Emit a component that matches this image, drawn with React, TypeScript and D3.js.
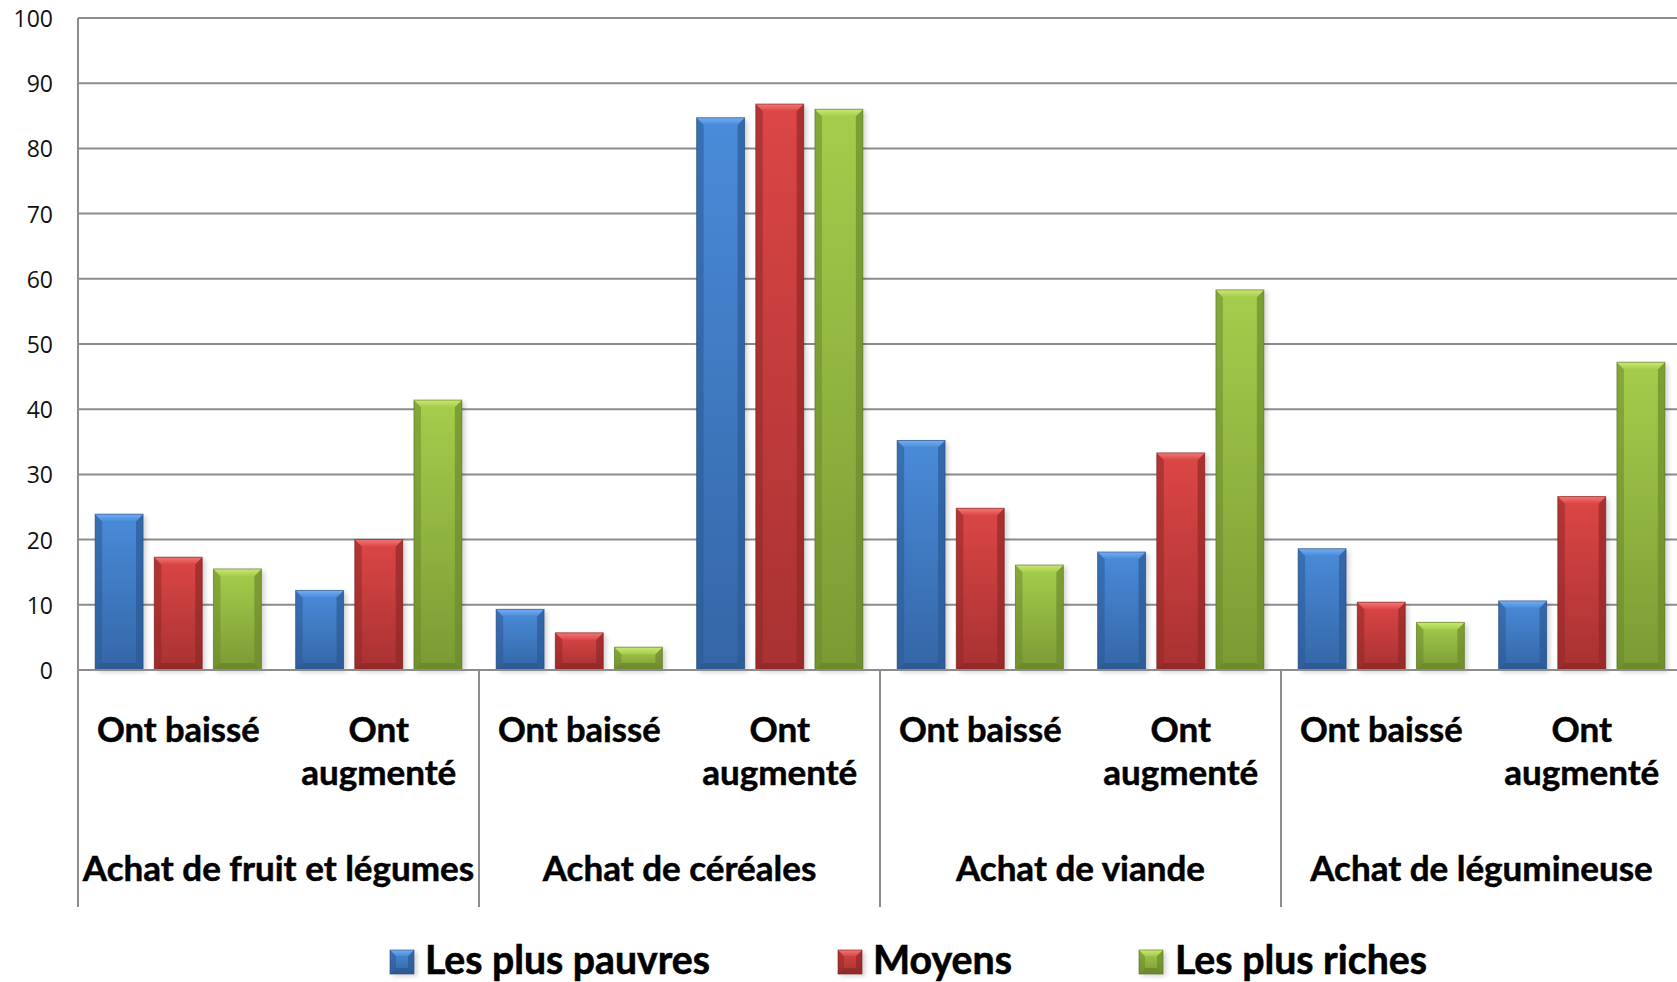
import React from "react";
import * as d3 from "d3";

const categories = ["Achat de fruit et légumes", "Achat de céréales", "Achat de viande", "Achat de légumineuse"];
const subcategories = ["Ont baissé", "Ont augmenté"];
const seriesNames = ["Les plus pauvres", "Moyens", "Les plus riches"];
const pauvres = [23.9, 12.2, 9.3, 84.7, 35.2, 18.1, 18.6, 10.6];
const moyens = [17.3, 20.0, 5.7, 86.8, 24.8, 33.3, 10.4, 26.6];
const riches = [15.5, 41.4, 3.5, 86.0, 16.1, 58.3, 7.3, 47.2];
const yTicks = [0, 10, 20, 30, 40, 50, 60, 70, 80, 90, 100];

const W = 1677;
const H = 982;
const left = 78;
const right = 1682;
const top = 18;
const bottom = 670;

const palettes = [
  { top: "#4a8bd9", bot: "#3466a6", bevelT: "#74aef2", side: "#2b5a95", bevelB: "#2a5288", stroke: "#24497a" },
  { top: "#dc4646", bot: "#a83131", bevelT: "#f27878", side: "#912828", bevelB: "#862525", stroke: "#7a2020" },
  { top: "#a6cd4c", bot: "#7a9a34", bevelT: "#cbe873", side: "#6c8a2c", bevelB: "#627e27", stroke: "#57701f" },
];

function Bevel({ x, y, w, h, i }: { x: number; y: number; w: number; h: number; i: number }) {
  const p = palettes[i];
  const b = Math.min(7, h / 2.5, w / 4);
  return (
    <g>
      <rect x={x + 3} y={y + 2} width={w} height={h} fill="#000" opacity={0.18} filter="url(#shadow)" />
      <rect x={x} y={y} width={w} height={h} fill={`url(#body${i})`} />
      <polygon
        points={`${x},${y} ${x + b},${y + b} ${x + b},${y + h - b} ${x},${y + h}`}
        fill={p.side}
        opacity={0.55}
      />
      <polygon
        points={`${x + w},${y} ${x + w - b},${y + b} ${x + w - b},${y + h - b} ${x + w},${y + h}`}
        fill={p.side}
        opacity={0.7}
      />
      <polygon
        points={`${x},${y + h} ${x + b},${y + h - b} ${x + w - b},${y + h - b} ${x + w},${y + h}`}
        fill={p.bevelB}
        opacity={0.6}
      />
      <polygon
        points={`${x},${y} ${x + w},${y} ${x + w - b},${y + b} ${x + b},${y + b}`}
        fill={`url(#bevel${i})`}
      />
      <rect x={x} y={y} width={w} height={h} fill="none" stroke={p.stroke} strokeWidth={1} opacity={0.6} />
    </g>
  );
}

export default function App() {
  const series = [pauvres, moyens, riches];
  const subKeys: string[] = [];
  categories.forEach((c) => subcategories.forEach((s) => subKeys.push(c + "|" + s)));

  const xSub = d3.scaleBand<string>().domain(subKeys).range([left, right]).padding(0);
  const xSer = d3
    .scaleBand<string>()
    .domain(seriesNames)
    .range([0, xSub.bandwidth()])
    .paddingInner(0.19)
    .paddingOuter(0.29);
  const y = d3.scaleLinear().domain([0, 100]).range([bottom, top]);
  const groupW = xSub.bandwidth() * subcategories.length;

  const font = "Lato, 'Open Sans', sans-serif";

  const legend = [
    { mx: 390, tx: 425, tw: 285 },
    { mx: 838, tx: 873, tw: 139 },
    { mx: 1139, tx: 1175, tw: 252 },
  ];

  return (
    <svg
      width={W}
      height={H}
      viewBox={`0 0 ${W} ${H}`}
      style={{ position: "absolute", left: 0, top: 0, display: "block", background: "#fff" }}
    >
      <defs>
        <filter id="shadow" x="-20%" y="-20%" width="140%" height="140%">
          <feGaussianBlur stdDeviation="2.5" />
        </filter>
        {palettes.map((p, i) => (
          <linearGradient key={"b" + i} id={`body${i}`} x1="0" y1="0" x2="0" y2="1">
            <stop offset="0" stopColor={p.top} />
            <stop offset="1" stopColor={p.bot} />
          </linearGradient>
        ))}
        {palettes.map((p, i) => (
          <linearGradient key={"t" + i} id={`bevel${i}`} x1="0" y1="0" x2="0" y2="1">
            <stop offset="0" stopColor={p.bevelT} />
            <stop offset="1" stopColor={p.top} />
          </linearGradient>
        ))}
      </defs>
      <rect x={0} y={0} width={W} height={H} fill="#fff" />

      {yTicks.map((t) => (
        <line key={"g" + t} x1={left} x2={W} y1={y(t)} y2={y(t)} stroke="#8c8c8c" strokeWidth={2} />
      ))}

      {yTicks.map((t) => (
        <text
          key={"tl" + t}
          x={53}
          y={y(t)}
          textAnchor="end"
          dominantBaseline="central"
          fontFamily="'Open Sans', sans-serif"
          fontSize={23}
          fill="#111"
        >
          {t}
        </text>
      ))}

      {subKeys.map((k, si) =>
        series.map((vals, i) => {
          const x0 = (xSub(k) as number) + (xSer(seriesNames[i]) as number);
          const yv = y(vals[si]);
          return <Bevel key={k + i} x={x0} y={yv} w={xSer.bandwidth()} h={bottom - yv} i={i} />;
        })
      )}

      <line x1={left} x2={W} y1={bottom} y2={bottom} stroke="#8c8c8c" strokeWidth={2} />
      <line x1={left} x2={left} y1={top} y2={907} stroke="#8c8c8c" strokeWidth={2} />
      {categories.map((c, ci) => (
        <line
          key={"sep" + ci}
          x1={left + (ci + 1) * groupW}
          x2={left + (ci + 1) * groupW}
          y1={bottom}
          y2={907}
          stroke="#8c8c8c"
          strokeWidth={2}
        />
      ))}

      {subKeys.map((k) => {
        const s = k.split("|")[1];
        const cx = (xSub(k) as number) + xSub.bandwidth() / 2;
        const words = s === "Ont augmenté" ? ["Ont", "augmenté"] : [s];
        return (
          <text
            key={"sl" + k}
            textAnchor="middle"
            fontFamily={font}
            fontWeight={700}
            fontSize={words.length > 1 ? 35 : 34.5}
            fill="#000"
            stroke="#000"
            strokeWidth={0.5}
          >
            {words.map((w, wi) => (
              <tspan key={wi} x={cx} y={741.5 + wi * 43.5}>
                {w}
              </tspan>
            ))}
          </text>
        );
      })}

      {categories.map((c, ci) => (
        <text
          key={"cl" + c}
          x={left + ci * groupW + groupW / 2}
          y={881}
          textAnchor="middle"
          fontFamily={font}
          fontWeight={700}
          fontSize={35}
          fill="#000"
          stroke="#000"
          strokeWidth={0.5}
        >
          {c}
        </text>
      ))}

      {seriesNames.map((s, i) => (
        <g key={"lg" + s}>
          <Bevel x={legend[i].mx} y={950} w={24} h={24} i={i} />
          <text
            x={legend[i].tx}
            y={974}
            fontFamily={font}
            fontWeight={700}
            fontSize={40}
            textLength={legend[i].tw}
            lengthAdjust="spacingAndGlyphs"
            fill="#000"
            stroke="#000"
            strokeWidth={0.6}
          >
            {s}
          </text>
        </g>
      ))}
    </svg>
  );
}
